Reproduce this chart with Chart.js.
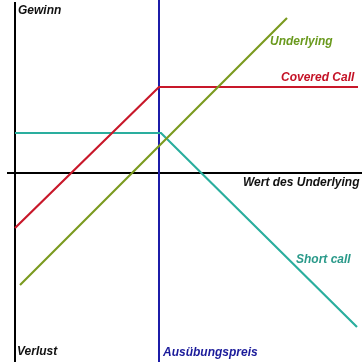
<!DOCTYPE html>
<html>
<head>
<meta charset="utf-8">
<script src="https://cdn.jsdelivr.net/npm/chart.js@4/dist/chart.umd.min.js"></script>
<style>
  html, body { margin: 0; padding: 0; background: #fff; }
  #wrap { width: 362px; height: 362px; }
</style>
</head>
<body>
<div id="wrap"><canvas id="payoff" width="362" height="362"></canvas></div>
<script>
// ==========================
// DATA (price of underlying vs. profit / loss)
// ==========================

const strike = 144;

const underlyingX = [5, 272];
const underlyingY = [-112, 155];

const coveredX = [0, 144, 343];
const coveredY = [-55, 86, 86];

const shortX = [0, 146, 342];
const shortY = [40, 40, -154];

const xRange = [-15, 347];
const yRange = [-189, 173];

function pts(xs, ys) {
    return xs.map((x, i) => ({ x: x, y: ys[i] }));
}

// ==========================
// AXES + LABELS PLUGIN
// ==========================

const decor = {
    id: 'decor',
    beforeDatasetsDraw(chart) {
        const ctx = chart.ctx;
        const xs = chart.scales.x, ys = chart.scales.y;
        const x0 = xs.getPixelForValue(0);
        const y0 = ys.getPixelForValue(0);
        const xk = xs.getPixelForValue(strike);

        ctx.save();
        ctx.lineWidth = 2;
        ctx.strokeStyle = '#000';
        ctx.beginPath();
        ctx.moveTo(x0, 2);
        ctx.lineTo(x0, 362);
        ctx.moveTo(x0 - 8, y0);
        ctx.lineTo(362, y0);
        ctx.stroke();

        ctx.strokeStyle = '#1c1ca8';
        ctx.beginPath();
        ctx.moveTo(xk, 0);
        ctx.lineTo(xk, 362);
        ctx.stroke();
        ctx.restore();
    },
    afterDatasetsDraw(chart) {
        const ctx = chart.ctx;
        ctx.save();
        ctx.font = 'italic bold 12px "Liberation Sans", Arial, sans-serif';
        ctx.textBaseline = 'alphabetic';
        const labels = [
            ['Gewinn', 18, 14, '#111'],
            ['Verlust', 17, 355, '#111'],
            ['Ausübungspreis', 163, 356, '#1a1a9a'],
            ['Wert des Underlying', 243, 186, '#111'],
            ['Underlying', 270, 45, '#6a9a1e'],
            ['Covered Call', 281, 81, '#c41226'],
            ['Short call', 296, 263, '#2a9a8a']
        ];
        labels.forEach(l => {
            ctx.fillStyle = l[3];
            ctx.fillText(l[0], l[1], l[2]);
        });
        ctx.restore();
    }
};

// ==========================
// CHART
// ==========================

const ctx = document.getElementById('payoff').getContext('2d');

new Chart(ctx, {
    type: 'scatter',
    data: {
        datasets: [
            {
                label: 'Underlying',
                data: pts(underlyingX, underlyingY),
                borderColor: '#7a9a1e',
                showLine: true,
                borderWidth: 2.2,
                pointRadius: 0
            },
            {
                label: 'Covered Call',
                data: pts(coveredX, coveredY),
                borderColor: '#c8182a',
                showLine: true,
                borderWidth: 2.2,
                pointRadius: 0
            },
            {
                label: 'Short call',
                data: pts(shortX, shortY),
                borderColor: '#2aae9e',
                showLine: true,
                borderWidth: 2.2,
                pointRadius: 0
            }
        ]
    },
    options: {
        responsive: false,
        animation: false,
        layout: { padding: 0 },
        plugins: {
            legend: { display: false },
            tooltip: { enabled: false }
        },
        scales: {
            x: { type: 'linear', min: xRange[0], max: xRange[1], display: false },
            y: { type: 'linear', min: yRange[0], max: yRange[1], display: false }
        }
    },
    plugins: [decor]
});
</script>
</body>
</html>
